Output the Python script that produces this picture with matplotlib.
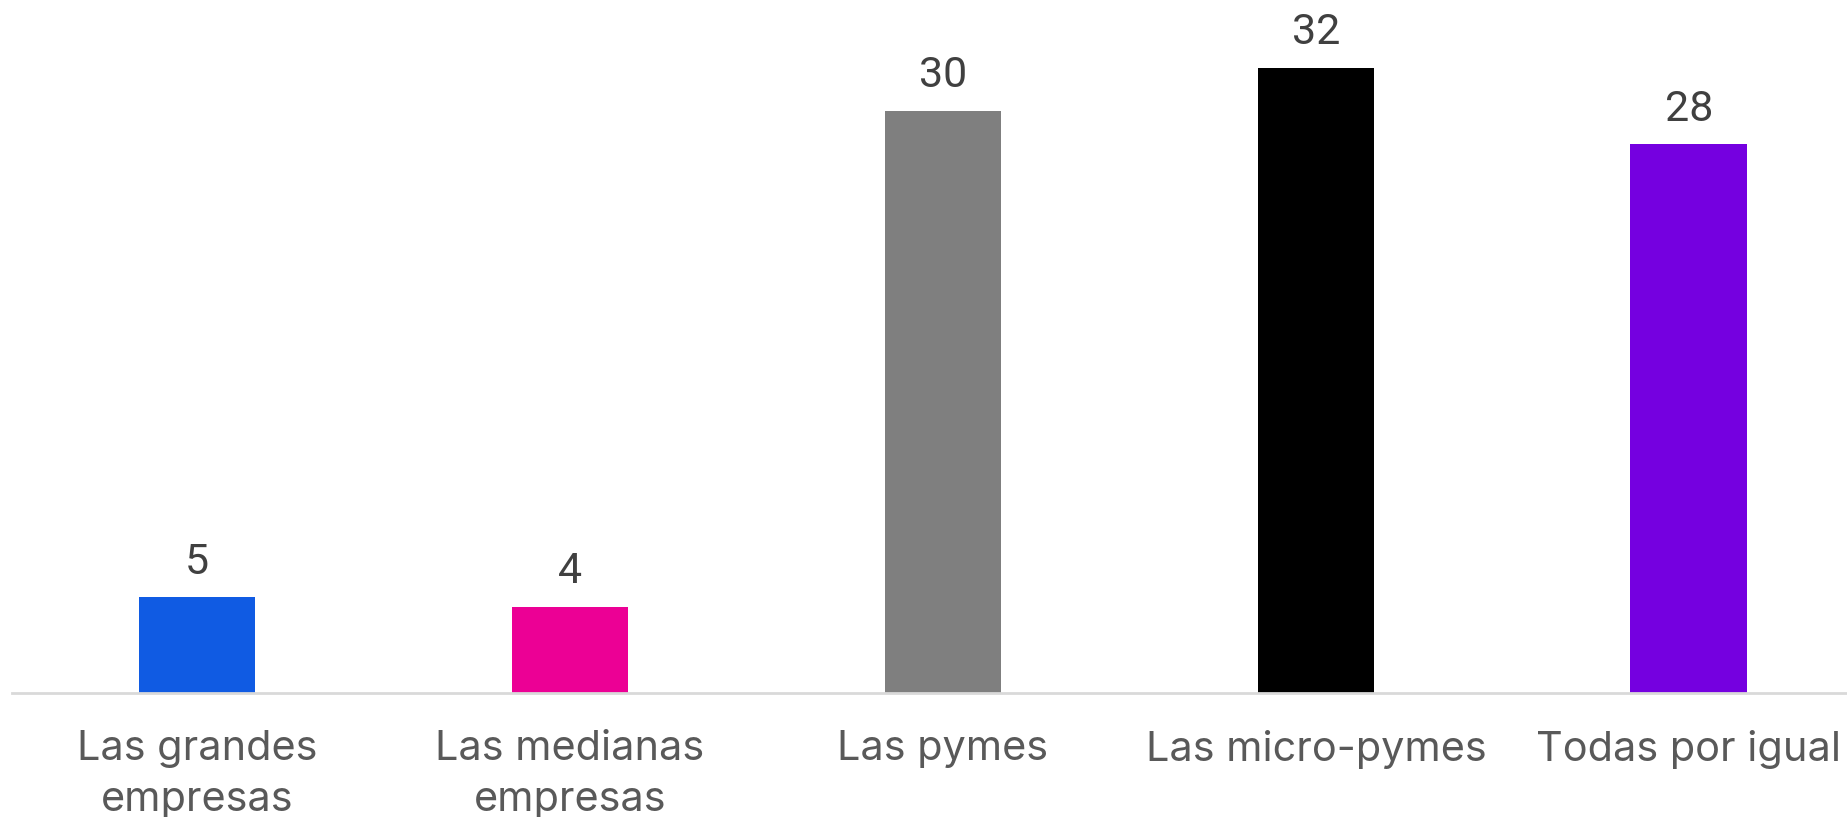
import matplotlib
matplotlib.use("Agg")
import matplotlib.pyplot as plt

categories = ["Las grandes\nempresas", "Las medianas\nempresas", "Las pymes", "Las micro-pymes", "Todas por igual"]
values = [4.9, 4.4, 29.8, 32.0, 28.1]
labels = ["5", "4", "30", "32", "28"]
colors = ["#105BE3", "#EC0095", "#7F7F7F", "#000000", "#7500E0"]

W, H, DPI = 1847, 817, 100
fig = plt.figure(figsize=(W / DPI, H / DPI), dpi=DPI)
ax = fig.add_axes([12 / W, 124 / H, 1 - 12 / W, 1 - 124 / H])

x = list(range(len(categories)))
ax.bar(x, values, width=0.313, color=colors, zorder=2)
ax.set_xlim(-0.496, 4.424)
ax.set_ylim(0, 35.48)

for xi, v, lab in zip(x, values, labels):
    ax.annotate(lab, (xi, v), xytext=(0, 10.5), textcoords="offset points",
                ha="center", va="bottom", fontsize=31, color="#404040", family="Roboto")

ax.set_xticks(x)
ax.set_xticklabels(categories, fontsize=29.8, color="#595959", family="Inter", linespacing=1.43)
ax.tick_params(axis="x", length=0, pad=26.5)
ax.set_yticks([])
for s in ["top", "right", "left"]:
    ax.spines[s].set_visible(False)
ax.spines["bottom"].set_color("#D9D9D9")
ax.spines["bottom"].set_linewidth(2)

fig.savefig("out.png", dpi=DPI)
